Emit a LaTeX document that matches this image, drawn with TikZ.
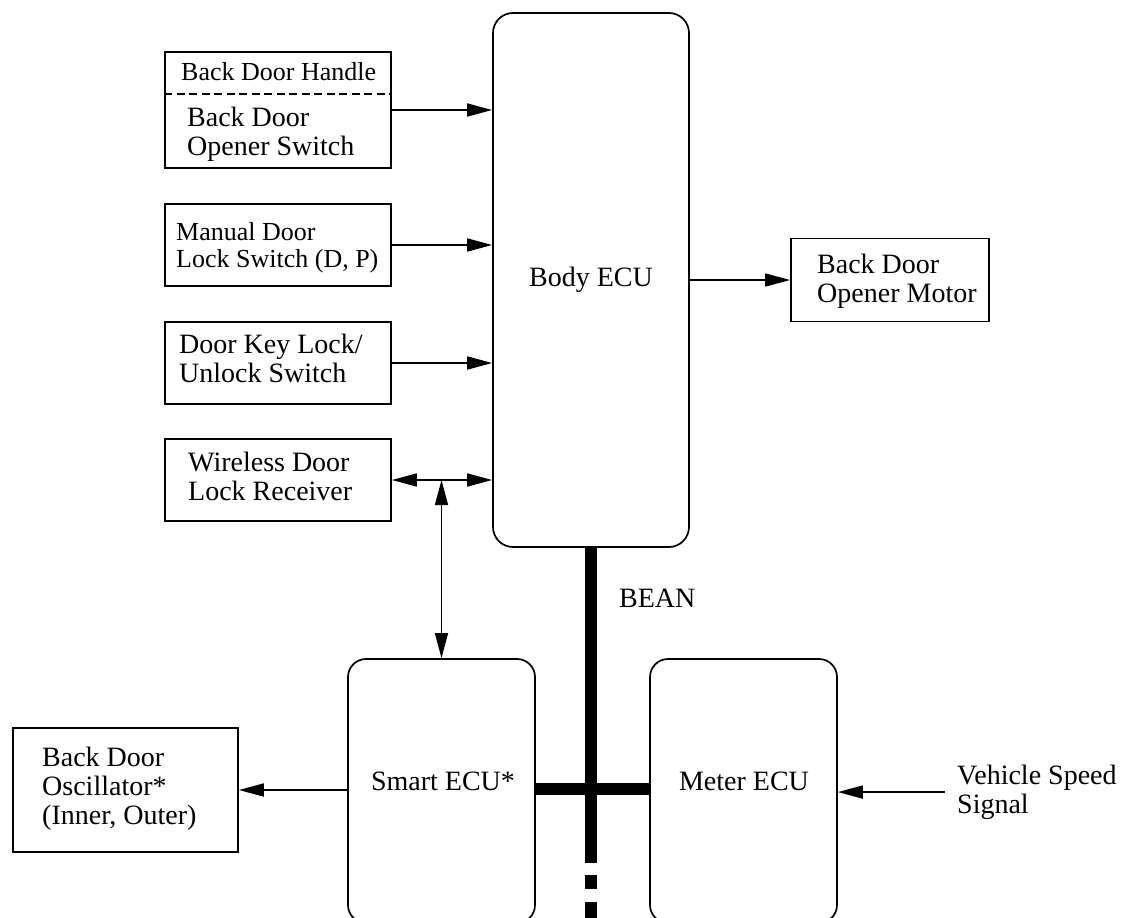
\documentclass[tikz,border=0pt]{standalone}
\usepackage{fontspec}
\setmainfont{Liberation Serif}
\usetikzlibrary{arrows.meta}
\begin{document}
\begin{tikzpicture}[x=1pt,y=-1pt,
  box/.style={draw, line width=1.7pt, inner sep=0pt},
  ecu/.style={draw, line width=1.7pt, rounded corners=20pt, inner sep=0pt, font=\fontsize{28}{28.5}\selectfont},
  lbl/.style={anchor=base west, inner sep=0pt, align=left, font=\fontsize{28}{28.5}\selectfont},
  tip/.tip={Triangle[length=25pt,width=13pt]},
  conn/.style={line width=1.7pt, -tip},
  bus/.style={line width=11.5pt},
  busdash/.style={fill=black}
]
\useasboundingbox (0,0) rectangle (1130,918);

% boxes
\node[box, minimum width=226pt, minimum height=116pt] (b1) at (278,110) {};
\node[box, minimum width=226pt, minimum height=82pt] (b2) at (278,245) {};
\node[box, minimum width=226pt, minimum height=82pt] (b3) at (278,363) {};
\node[box, minimum width=226pt, minimum height=82pt] (b4) at (278,480) {};
\node[ecu, minimum width=196pt, minimum height=534pt] (body) at (591,280) {Body ECU};
\node[box, minimum width=198pt, minimum height=83pt] (motor) at (890,280) {};
\node[box, minimum width=225pt, minimum height=124pt] (osc) at (125.5,790) {};
\node[ecu, rounded corners=18pt, minimum width=187pt, minimum height=264pt] (smart) at (441.5,791) {};
\node[ecu, rounded corners=18pt, minimum width=187pt, minimum height=264pt] (meter) at (743.5,791) {};

% dashed divider
\draw[line width=1.4pt, dash pattern=on 8pt off 4.5pt] (b1.west |- 0,94) -- (b1.east |- 0,94);

% texts
\node[lbl, font=\fontsize{26}{27}\selectfont] (t1a) at (181,80) {Back Door Handle};
\node[lbl] (t1b) at (187,155) {Back Door\\Opener Switch};
\node[lbl, font=\fontsize{26}{27}\selectfont] (t2) at (176,267) {Manual Door\\Lock Switch (D, P)};
\node[lbl] (t3) at (179,382) {Door Key Lock/\\Unlock Switch};
\node[lbl] (t4) at (188,500) {Wireless Door\\Lock Receiver};
\node[lbl] (tm) at (817,302) {Back Door\\Opener Motor};
\node[lbl, font=\fontsize{28}{29}\selectfont] (to) at (42,824) {Back Door\\Oscillator*\\(Inner, Outer)};
\node[lbl, inner xsep=12pt] (vss) at (945,813) {Vehicle Speed\\Signal};
\node[lbl] (bean) at (619,607) {BEAN};
\node[anchor=base, inner sep=0pt, font=\fontsize{28}{28.5}\selectfont] (tsmart) at (443,790) {Smart ECU*};
\node[anchor=base, inner sep=0pt, font=\fontsize{28}{28.5}\selectfont] (tmeter) at (744,790) {Meter ECU};

% connectors
\draw[conn] (b1.east) -- (b1.east -| body.west);
\draw[conn] (b2.east) -- (b2.east -| body.west);
\draw[conn] (b3.east) -- (b3.east -| body.west);
\draw[conn, tip-tip] (b4.east) -- (b4.east -| body.west);
\coordinate (jn) at (smart.north |- b4.east);
\draw[line width=1.3pt, tip-tip] (jn) -- (smart.north);
\draw[conn] (body.east |- motor.west) -- (motor.west);
\draw[conn] (smart.west |- osc.east) -- (osc.east);
\draw[conn] (vss.west) -- (vss.west -| meter.east);

% BEAN bus
\coordinate (busend) at (body.south |- 0,863);
\draw[bus] (body.south) -- (busend);
\draw[bus] (smart.east |- 0,789) -- (meter.west |- 0,789);
\fill[busdash] ([xshift=-5.75pt]busend |- 0,875) rectangle ([xshift=5.75pt]busend |- 0,889);
\fill[busdash] ([xshift=-5.75pt]busend |- 0,902) rectangle ([xshift=5.75pt]busend |- 0,921);
\end{tikzpicture}
\end{document}
